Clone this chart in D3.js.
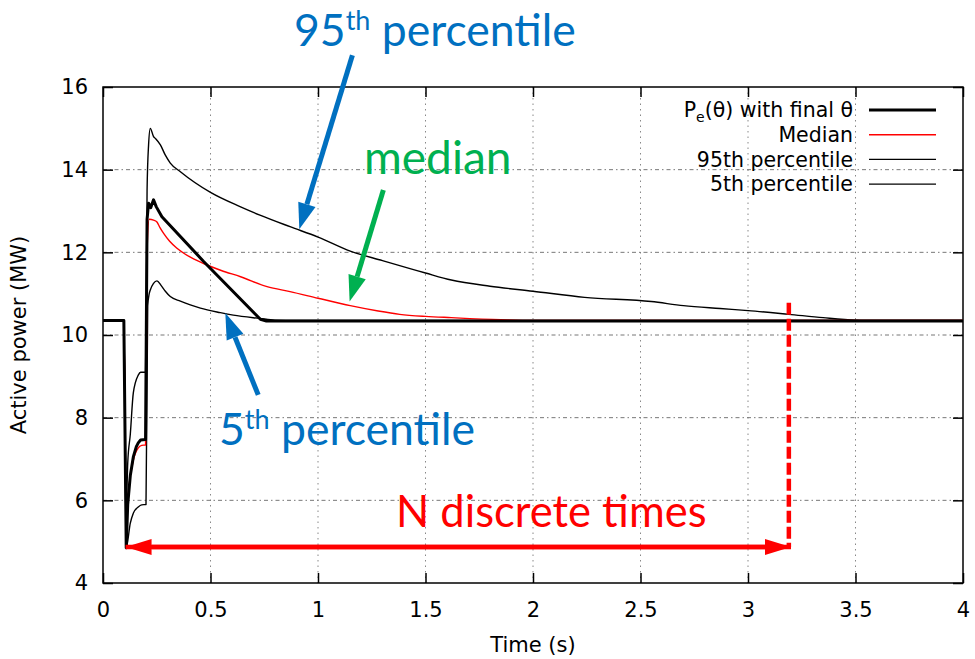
<!DOCTYPE html>
<html>
<head>
<meta charset="utf-8">
<script src="https://cdn.jsdelivr.net/npm/d3@7"></script>
<style>
  body { margin: 0; background: #fff; }
  svg { display: block; }
  .axis text { font-family: "DejaVu Sans", sans-serif; font-size: 21px; fill: #000; }
  .axis path, .axis line { stroke: #000; stroke-width: 1.5; }
  .ann { font-family: Lato, "Open Sans", sans-serif; }
</style>
</head>
<body>
<svg id="chart" width="975" height="659"></svg>
<script>
// series values, [time (s), power (MW)]
const finalTheta = [
  [0, 10.35], [0.097, 10.35], [0.108, 4.85], [0.115, 5.9], [0.127, 6.6], [0.141, 7.05],
  [0.155, 7.3], [0.164, 7.39], [0.175, 7.46], [0.198, 7.47], [0.205, 12.8], [0.212, 13.19],
  [0.222, 13.08], [0.235, 13.27], [0.248, 13.1], [0.274, 12.86], [0.468, 11.78], [0.732, 10.38],
  [0.76, 10.34], [4, 10.34]
];
const median = [
  [0, 10.35], [0.097, 10.35], [0.108, 5.5], [0.12, 6.3], [0.141, 6.97], [0.164, 7.27],
  [0.18, 7.33], [0.198, 7.34], [0.206, 12.2], [0.215, 12.8], [0.235, 12.78], [0.25, 12.74],
  [0.265, 12.6], [0.282, 12.46], [0.31, 12.27], [0.344, 12.1], [0.4, 11.9], [0.468, 11.73],
  [0.55, 11.56], [0.64, 11.41], [0.763, 11.17], [0.87, 11.05], [1.0, 10.89], [1.15, 10.71],
  [1.28, 10.58], [1.38, 10.5], [1.5, 10.45], [1.62, 10.42], [1.85, 10.37], [2.0, 10.35], [4, 10.35]
];
const p95 = [
  [0, 10.35], [0.097, 10.35], [0.108, 5.8], [0.115, 6.9], [0.127, 7.6], [0.141, 8.6],
  [0.164, 9.03], [0.175, 9.1], [0.198, 9.1], [0.205, 13.5], [0.212, 14.6], [0.22, 15.0],
  [0.235, 14.8], [0.245, 14.75], [0.267, 14.6], [0.29, 14.35], [0.313, 14.16], [0.36, 13.95],
  [0.5, 13.45], [0.64, 13.1], [0.73, 12.9], [0.87, 12.62], [1.0, 12.37], [1.15, 12.03],
  [1.3, 11.8], [1.5, 11.5], [1.62, 11.33], [1.8, 11.18], [2.0, 11.06], [2.24, 10.91],
  [2.55, 10.81], [2.7, 10.71], [2.87, 10.64], [3.0, 10.59], [3.19, 10.5], [3.35, 10.42],
  [3.5, 10.36], [3.56, 10.35], [4, 10.35]
];
const p5 = [
  [0, 10.35], [0.097, 10.35], [0.108, 4.85], [0.127, 5.45], [0.141, 5.69], [0.164, 5.84],
  [0.18, 5.89], [0.2, 5.9], [0.208, 10.7], [0.215, 11.0], [0.22, 11.09], [0.235, 11.25],
  [0.251, 11.31], [0.27, 11.2], [0.29, 11.06], [0.313, 10.93], [0.36, 10.82], [0.406, 10.73],
  [0.453, 10.65], [0.546, 10.54], [0.606, 10.48], [0.73, 10.4], [0.8, 10.36], [0.9, 10.35], [4, 10.35]
];

const xTicks = [0, 0.5, 1, 1.5, 2, 2.5, 3, 3.5, 4];
const yTicks = [4, 6, 8, 10, 12, 14, 16];

// annotation anchors in data units
const arrow95 = [[1.16, 16.77], [0.913, 12.56]];
const arrowMed = [[1.304, 13.51], [1.147, 10.81]];
const arrow5 = [[0.722, 8.55], [0.569, 10.53]];
const nTimes = [[0.105, 4.87], [3.2, 4.87]];
const nDashed = [[3.19, 10.78], [3.19, 4.87]];

const svg = d3.select('#chart');
const margin = { top: 87, right: 12, bottom: 76, left: 103 };
const W = +svg.attr('width'), H = +svg.attr('height');
const iw = W - margin.left - margin.right;
const ih = H - margin.top - margin.bottom;

const x = d3.scaleLinear().domain([0, 4]).range([0, iw]);
const y = d3.scaleLinear().domain([4, 16]).range([ih, 0]);

const g = svg.append('g').attr('transform', `translate(${margin.left},${margin.top})`);

// grid
g.append('g').selectAll('line').data(xTicks.slice(1, -1)).join('line')
  .attr('x1', d => x(d)).attr('x2', d => x(d)).attr('y1', 0).attr('y2', ih)
  .attr('stroke', '#888').attr('stroke-width', 1).attr('stroke-dasharray', '1.5,4');
g.append('g').selectAll('line').data(yTicks.slice(1, -1)).join('line')
  .attr('y1', d => y(d)).attr('y2', d => y(d)).attr('x1', 0).attr('x2', iw)
  .attr('stroke', '#777').attr('stroke-width', 1).attr('stroke-dasharray', '4,3,1.5,3');

// axes (gnuplot style: inward ticks, mirrored)
g.append('g').attr('class', 'axis').attr('transform', `translate(0,${ih})`)
  .call(d3.axisBottom(x).tickValues(xTicks).tickFormat(d3.format('')).tickSizeInner(-10).tickSizeOuter(0).tickPadding(19));
g.append('g').attr('class', 'axis')
  .call(d3.axisLeft(y).tickValues(yTicks).tickSizeInner(-10).tickSizeOuter(0).tickPadding(15));
g.append('g').attr('class', 'axis')
  .call(d3.axisTop(x).tickValues(xTicks).tickFormat('').tickSizeInner(-10).tickSizeOuter(0));
g.append('g').attr('class', 'axis').attr('transform', `translate(${iw},0)`)
  .call(d3.axisRight(y).tickValues(yTicks).tickFormat('').tickSizeInner(-10).tickSizeOuter(0));
g.selectAll('.axis .domain').remove();
g.append('rect').attr('width', iw).attr('height', ih)
  .attr('fill', 'none').attr('stroke', '#000').attr('stroke-width', 1.5);

// series
const smooth = d3.line().x(d => x(d[0])).y(d => y(d[1])).curve(d3.curveMonotoneX);
const straight = d3.line().x(d => x(d[0])).y(d => y(d[1]));
const series = [
  { data: p95, color: '#000', width: 1.4, gen: smooth },
  { data: p5, color: '#000', width: 1.4, gen: smooth },
  { data: median, color: '#f00', width: 1.4, gen: smooth },
  { data: finalTheta, color: '#000', width: 3, gen: straight }
];
g.append('g').selectAll('path').data(series).join('path')
  .attr('d', d => d.gen(d.data)).attr('fill', 'none')
  .attr('stroke', d => d.color).attr('stroke-width', d => d.width)
  .attr('stroke-linejoin', 'round');

// legend
const legend = [
  { label: 'final', color: '#000', width: 3 },
  { label: 'Median', color: '#f00', width: 1.4 },
  { label: '95th percentile', color: '#000', width: 1.4 },
  { label: '5th percentile', color: '#000', width: 1.4 }
];
const lg = g.append('g').attr('transform', `translate(${iw}, 0)`);
legend.forEach((d, i) => {
  const cy = 23 + i * 24.7;
  lg.append('line').attr('x1', -94).attr('x2', -27).attr('y1', cy).attr('y2', cy)
    .attr('stroke', d.color).attr('stroke-width', d.width);
  const t = lg.append('text').attr('x', -110).attr('y', cy).attr('dy', '0.36em')
    .attr('text-anchor', 'end').attr('font-family', '"DejaVu Sans", sans-serif')
    .attr('font-size', 20.5);
  if (d.label === 'final') {
    t.append('tspan').text('P');
    t.append('tspan').attr('font-size', 14).attr('dy', 5).text('e');
    t.append('tspan').attr('dy', -5).text('(θ) with final θ');
  } else {
    t.text(d.label);
  }
});

// annotations
function arrow(pts, color, sw, headL, headW) {
  const [x0, y0] = [x(pts[0][0]), y(pts[0][1])];
  const [x1, y1] = [x(pts[1][0]), y(pts[1][1])];
  const a = Math.atan2(y1 - y0, x1 - x0);
  const bx = x1 - headL * Math.cos(a), by = y1 - headL * Math.sin(a);
  g.append('line').attr('x1', x0).attr('y1', y0).attr('x2', bx).attr('y2', by)
    .attr('stroke', color).attr('stroke-width', sw);
  const px = -Math.sin(a) * headW, py = Math.cos(a) * headW;
  g.append('path').attr('d', `M${x1},${y1}L${bx + px},${by + py}L${bx - px},${by - py}Z`).attr('fill', color);
}
arrow(arrow95, '#0070C0', 5, 26, 9);
arrow(arrowMed, '#00B050', 5, 26, 9);
arrow(arrow5, '#0070C0', 5, 26, 9);

// N discrete times double arrow
arrow([nTimes[1], nTimes[0]], '#f00', 4.5, 26, 8);
arrow(nTimes, '#f00', 4.5, 26, 8);
g.append('line')
  .attr('x1', x(nDashed[0][0])).attr('x2', x(nDashed[1][0]))
  .attr('y1', y(nDashed[0][1])).attr('y2', y(nDashed[1][1]))
  .attr('stroke', '#f00').attr('stroke-width', 4.5).attr('stroke-dasharray', '12,4');

function sup(txt, pre, post, px, py, color) {
  const t = svg.append('text').attr('class', 'ann').attr('x', px).attr('y', py)
    .attr('fill', color).attr('font-size', 44.5);
  t.append('tspan').text(pre);
  t.append('tspan').attr('font-size', 27).attr('dy', -16).text(txt);
  t.append('tspan').attr('dy', 16).text(post);
}
sup('th', '95', ' percentile', 294, 46, '#0070C0');
sup('th', '5', ' percentile', 219, 445, '#0070C0');
svg.append('text').attr('class', 'ann').attr('x', 364).attr('y', 174)
  .attr('fill', '#00B050').attr('font-size', 46).text('median');
svg.append('text').attr('class', 'ann').attr('x', 396).attr('y', 527)
  .attr('fill', '#f00').attr('font-size', 43.5).text('N discrete times');

// axis titles
svg.append('text').attr('x', margin.left + iw / 2).attr('y', 652)
  .attr('text-anchor', 'middle').attr('font-family', '"DejaVu Sans", sans-serif')
  .attr('font-size', 21).text('Time (s)');
svg.append('text').attr('transform', `translate(26,${margin.top + ih / 2}) rotate(-90)`)
  .attr('text-anchor', 'middle').attr('font-family', '"DejaVu Sans", sans-serif')
  .attr('font-size', 21).text('Active power (MW)');
</script>
</body>
</html>
